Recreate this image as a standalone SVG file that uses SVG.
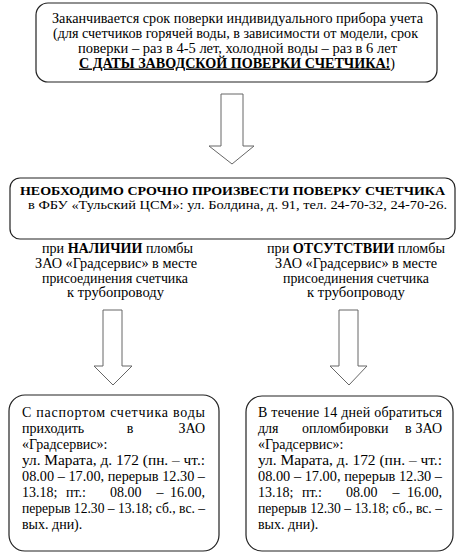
<svg xmlns="http://www.w3.org/2000/svg" width="461" height="558" viewBox="0 0 461 558">
<style>
.box{fill:#fff;stroke:#222;stroke-width:1.2}
.arr{fill:#fff;stroke:#666;stroke-width:1}
text{font-family:"Liberation Serif","DejaVu Serif","Noto Serif","Times New Roman",Times,serif;font-size:14px;fill:#000}
.c{text-anchor:middle}
.e{text-anchor:end}
.b{font-weight:bold}
.s13{font-size:13px}
</style>
<rect width="461" height="558" fill="#fff"/>
<g id="connectors">
<path class="arr" d="M221,94 H243 V146 H254 L232,164 L209,146 H221 Z"/>
<path class="arr" d="M103,310 H122 V366 H132 L113,385 L94,366 H103 Z"/>
<path class="arr" d="M339,310 H358 V366 H367 L349,385 L330,366 H339 Z"/>
</g>
<g id="node-top">
<rect class="box" x="36" y="3" width="401" height="79" rx="12"/>
<text class="c" x="237.5" y="22.5" textLength="371" lengthAdjust="spacingAndGlyphs">Заканчивается срок поверки индивидуального прибора учета</text>
<text class="c" x="235.5" y="37.5" textLength="365" lengthAdjust="spacingAndGlyphs">(для счетчиков горячей воды, в зависимости от модели, срок</text>
<text class="c" x="237.5" y="52.5" textLength="319" lengthAdjust="spacingAndGlyphs">поверки – раз в 4-5 лет, холодной воды – раз в 6 лет</text>
<text class="c" x="237" y="67.5" textLength="316" lengthAdjust="spacingAndGlyphs"><tspan class="b" text-decoration="underline">С ДАТЫ ЗАВОДСКОЙ ПОВЕРКИ СЧЕТЧИКА!</tspan>)</text>
</g>
<g id="node-main">
<rect class="box" x="10" y="178" width="445" height="61" rx="10"/>
<text class="c b s13" x="232.5" y="195" textLength="425" lengthAdjust="spacingAndGlyphs">НЕОБХОДИМО СРОЧНО ПРОИЗВЕСТИ ПОВЕРКУ СЧЕТЧИКА</text>
<text class="c s13" x="237.5" y="209" textLength="419" lengthAdjust="spacingAndGlyphs">в ФБУ «Тульский ЦСМ»: ул. Болдина, д. 91, тел. 24-70-32, 24-70-26.</text>
</g>
<g id="label-left">
<text class="c" x="117.5" y="253" textLength="151" lengthAdjust="spacingAndGlyphs">при <tspan class="b">НАЛИЧИИ</tspan> пломбы</text>
<text class="c" x="116" y="268" textLength="162" lengthAdjust="spacingAndGlyphs">ЗАО «Градсервис» в месте</text>
<text class="c" x="115" y="283" textLength="146" lengthAdjust="spacingAndGlyphs">присоединения счетчика</text>
<text class="c" x="115.5" y="297" textLength="97" lengthAdjust="spacingAndGlyphs">к трубопроводу</text>
</g>
<g id="label-right">
<text class="c" x="356" y="253" textLength="178" lengthAdjust="spacingAndGlyphs">при <tspan class="b">ОТСУТСТВИИ</tspan> пломбы</text>
<text class="c" x="356" y="268" textLength="162" lengthAdjust="spacingAndGlyphs">ЗАО «Градсервис» в месте</text>
<text class="c" x="356" y="283" textLength="146" lengthAdjust="spacingAndGlyphs">присоединения счетчика</text>
<text class="c" x="356" y="297" textLength="98" lengthAdjust="spacingAndGlyphs">к трубопроводу</text>
</g>
<g id="node-left">
<rect class="box" x="9" y="395" width="210" height="156" rx="16"/>
<text x="22" y="417" textLength="183" lengthAdjust="spacing">С паспортом счетчика воды</text>
<text x="22" y="433">приходить</text><text class="c" x="130" y="433">в</text><text class="e" x="205" y="433">ЗАО</text>
<text x="22" y="449">«Градсервис»:</text>
<text x="22" y="465" textLength="183" lengthAdjust="spacingAndGlyphs">ул. Марата, д. 172 (пн. – чт.:</text>
<text x="22" y="481" textLength="183" lengthAdjust="spacingAndGlyphs">08.00 – 17.00, перерыв 12.30 –</text>
<text x="22" y="497">13.18;</text><text x="66" y="497">пт.:</text><text x="110" y="497">08.00</text><text class="c" x="160" y="497">–</text><text class="e" x="205" y="497">16.00,</text>
<text x="22" y="513" textLength="183" lengthAdjust="spacingAndGlyphs">перерыв 12.30 – 13.18; сб., вс. –</text>
<text x="22" y="529">вых. дни).</text>
</g>
<g id="node-right">
<rect class="box" x="246" y="396" width="207" height="155" rx="16"/>
<text x="258" y="417" textLength="184" lengthAdjust="spacing">В течение 14 дней обратиться</text>
<text x="258" y="433">для</text><text x="302" y="433">опломбировки</text><text x="405" y="433">в</text><text class="e" x="442" y="433">ЗАО</text>
<text x="258" y="449">«Градсервис»:</text>
<text x="258" y="465" textLength="184" lengthAdjust="spacingAndGlyphs">ул. Марата, д. 172 (пн. – чт.:</text>
<text x="258" y="481" textLength="184" lengthAdjust="spacingAndGlyphs">08.00 – 17.00, перерыв 12.30 –</text>
<text x="258" y="497">13.18;</text><text x="302" y="497">пт.:</text><text x="346" y="497">08.00</text><text class="c" x="396" y="497">–</text><text class="e" x="442" y="497">16.00,</text>
<text x="258" y="513" textLength="184" lengthAdjust="spacingAndGlyphs">перерыв 12.30 – 13.18; сб., вс. –</text>
<text x="258" y="529">вых. дни).</text>
</g>
</svg>
